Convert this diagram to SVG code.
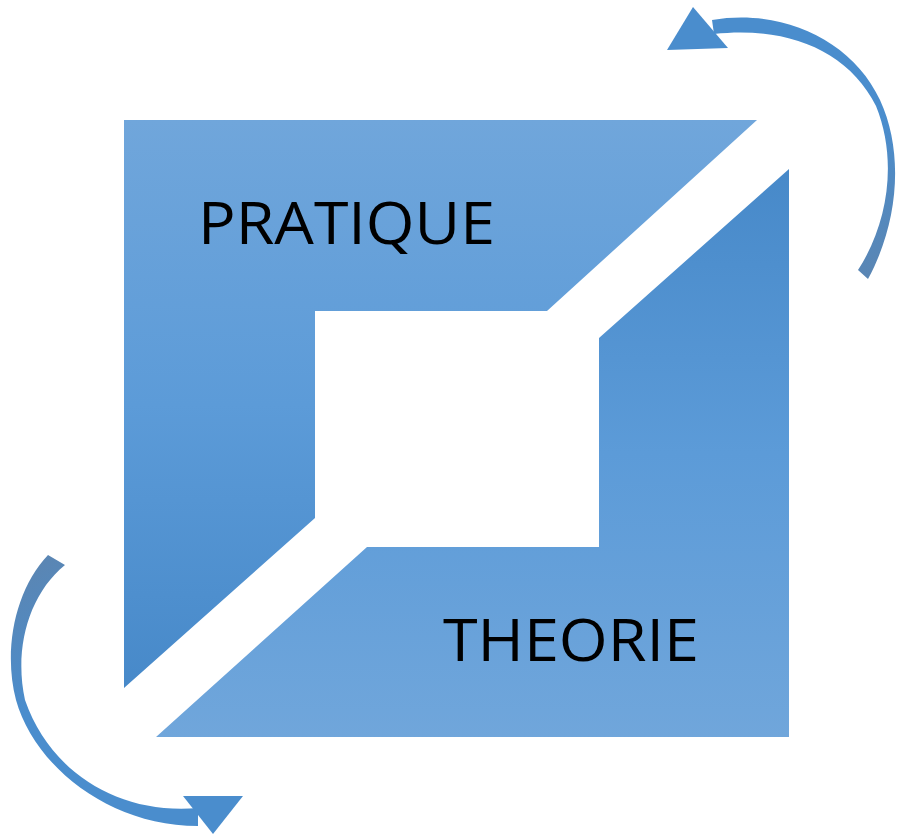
<svg xmlns="http://www.w3.org/2000/svg" width="897" height="836" viewBox="0 0 897 836">
<defs>
<linearGradient id="gTop" x1="0" y1="120" x2="0" y2="689" gradientUnits="userSpaceOnUse">
<stop offset="0" stop-color="#70a6db"/>
<stop offset="0.5" stop-color="#5c9bd8"/>
<stop offset="1" stop-color="#4789c9"/>
</linearGradient>
<linearGradient id="gBot" x1="0" y1="169" x2="0" y2="738" gradientUnits="userSpaceOnUse">
<stop offset="0" stop-color="#4789c9"/>
<stop offset="0.5" stop-color="#5c9bd8"/>
<stop offset="1" stop-color="#70a6db"/>
</linearGradient>
<linearGradient id="gArcTR" x1="700" y1="20" x2="865" y2="278" gradientUnits="userSpaceOnUse">
<stop offset="0" stop-color="#4a8dcd"/>
<stop offset="0.6" stop-color="#4a8dcd"/>
<stop offset="1" stop-color="#5a86b4"/>
</linearGradient>
<linearGradient id="gArcBL" x1="200" y1="820" x2="55" y2="558" gradientUnits="userSpaceOnUse">
<stop offset="0" stop-color="#4a8dcd"/>
<stop offset="0.6" stop-color="#4a8dcd"/>
<stop offset="1" stop-color="#5a86b4"/>
</linearGradient>
</defs>
<style>
.lbl{font-family:"Open Sans","Liberation Sans",sans-serif;font-size:59px;fill:#000;}
.head{fill:#4a8dcd;}
</style>
<g id="pratique">
<polygon points="124,120 757,120 547,311 315,311 315,518 124,688" fill="url(#gTop)"/>
<text class="lbl" x="198" y="244" textLength="297" lengthAdjust="spacingAndGlyphs">PRATIQUE</text>
</g>
<g id="theorie">
<polygon points="789,169 789,737 156,737 367,547 599,547 599,338" fill="url(#gBot)"/>
<text class="lbl" x="443" y="661" textLength="256" lengthAdjust="spacingAndGlyphs">THEORIE</text>
</g>
<g id="connectors">
<g id="arrow-top-right">
<path d="M 712 20 C 782 8, 852 40, 880 100 C 904 152, 899 222, 868 279 L 858 270 C 888 224, 898 160, 876 106 C 848 50, 786 26, 714 34 Z" fill="url(#gArcTR)"/>
<polygon class="head" points="667,50 693,7 728,48"/>
</g>
<g id="arrow-bottom-left">
<path d="M 48 555 C 15 590, 3 650, 16 700 C 34 765, 108 826, 198 826 L 198 808 C 118 815, 50 772, 25 700 C 14 650, 28 595, 65 565 Z" fill="url(#gArcBL)"/>
<polygon class="head" points="183,796 243,796 213,834"/>
</g>
</g>
</svg>
